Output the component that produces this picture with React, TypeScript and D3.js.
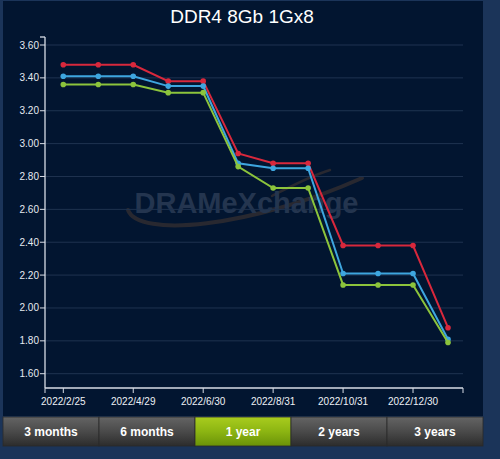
import React from "react";
import * as d3 from "d3";

const categories = ["2022/2/25", "2022/3/31", "2022/4/29", "2022/5/31", "2022/6/30", "2022/7/29", "2022/8/31", "2022/9/30", "2022/10/31", "2022/11/30", "2022/12/30", "2023/1/31"];
const tickLabels = ["2022/2/25", "2022/4/29", "2022/6/30", "2022/8/31", "2022/10/31", "2022/12/30"];
const redValues = [3.48, 3.48, 3.48, 3.38, 3.38, 2.94, 2.88, 2.88, 2.38, 2.38, 2.38, 1.88];
const blueValues = [3.41, 3.41, 3.41, 3.35, 3.35, 2.88, 2.85, 2.85, 2.21, 2.21, 2.21, 1.81];
const greenValues = [3.36, 3.36, 3.36, 3.31, 3.31, 2.86, 2.73, 2.73, 2.14, 2.14, 2.14, 1.79];
const yTicks = [1.6, 1.8, 2.0, 2.2, 2.4, 2.6, 2.8, 3.0, 3.2, 3.4, 3.6];
const buttons = ["3 months", "6 months", "1 year", "2 years", "3 years"];
const activeButton = "1 year";

const series = [
  { name: "high", values: redValues, color: "#d8283c" },
  { name: "avg", values: blueValues, color: "#3ea6df" },
  { name: "low", values: greenValues, color: "#8cc43c" },
];

export default function App() {
  const W = 500, H = 459;
  const axisLeft = 45, axisRight = 463, axisTop = 37, axisBottom = 388;
  const x = d3.scalePoint<string>().domain(categories).range([63.3, 448]);
  const y = d3.scaleLinear().domain([1.6, 3.6]).range([373.7, 45]);
  const line = d3.line<number>().x((_, i) => x(categories[i])!).y((v) => y(v));
  const btnX = d3.scaleBand<string>().domain(buttons).range([3, 483]);
  const font = "'Liberation Sans', Arial, sans-serif";

  return (
    <svg width={W} height={H} style={{ position: "absolute", left: 0, top: 0, display: "block" }} fontFamily={font}>
      <defs>
        <linearGradient id="btnGray" x1="0" y1="0" x2="0" y2="1">
          <stop offset="0" stopColor="#646464" />
          <stop offset="0.5" stopColor="#4a4a4a" />
          <stop offset="1" stopColor="#2c2c2c" />
        </linearGradient>
        <linearGradient id="btnGreen" x1="0" y1="0" x2="0" y2="1">
          <stop offset="0" stopColor="#a9cc1e" />
          <stop offset="0.5" stopColor="#8cb512" />
          <stop offset="1" stopColor="#6a9208" />
        </linearGradient>
      </defs>
      <rect x={0} y={0} width={W} height={H} fill="#1b3459" />
      <rect x={3} y={1} width={480} height={415} fill="#021530" />

      {/* watermark */}
      <g opacity={0.5}>
        <path d="M128,210 C138,238 250,228 362,178" stroke="#4e3c30" strokeWidth={4} fill="none" strokeLinecap="round" />
        <path d="M272,196 C292,186 310,176 330,170" stroke="#4e3c30" strokeWidth={2.5} fill="none" strokeLinecap="round" />
        <text x={246.5} y={213} textAnchor="middle" fontSize={29} fontWeight="bold" fill="#46566e">DRAMeXchange</text>
      </g>

      {/* grid */}
      {yTicks.map((t) => (
        <line key={t} x1={axisLeft} x2={axisRight} y1={y(t)} y2={y(t)} stroke="#1f3350" strokeWidth={1} />
      ))}

      {/* y axis */}
      <line x1={axisLeft} x2={axisLeft} y1={axisTop} y2={axisBottom} stroke="#d8dde6" strokeWidth={1.3} />
      <line x1={axisLeft - 5} x2={axisLeft} y1={axisTop} y2={axisTop} stroke="#d8dde6" strokeWidth={1.3} />
      {yTicks.map((t) => (
        <g key={t}>
          <line x1={axisLeft - 5} x2={axisLeft} y1={y(t)} y2={y(t)} stroke="#d8dde6" strokeWidth={1} />
          <text x={axisLeft - 6} y={y(t) + 3.5} textAnchor="end" fontSize={10} fill="#e6eaf0">{t.toFixed(2)}</text>
        </g>
      ))}

      {/* x axis */}
      <line x1={axisLeft} x2={axisRight} y1={axisBottom} y2={axisBottom} stroke="#d8dde6" strokeWidth={1.3} />
      {[axisLeft, axisRight].map((px) => (
        <line key={px} x1={px} x2={px} y1={axisBottom} y2={axisBottom + 5} stroke="#d8dde6" strokeWidth={1} />
      ))}
      {tickLabels.map((c) => (
        <g key={c}>
          <line x1={x(c)!} x2={x(c)!} y1={axisBottom} y2={axisBottom + 5} stroke="#d8dde6" strokeWidth={1} />
          <text x={x(c)!} y={axisBottom + 16.5} textAnchor="middle" fontSize={10} fill="#eef1f5">{c}</text>
        </g>
      ))}

      {/* series */}
      {series.map((s) => (
        <g key={s.name}>
          <path d={line(s.values) || ""} fill="none" stroke={s.color} strokeWidth={2} />
          {s.values.map((v, i) => (
            <circle key={i} cx={x(categories[i])!} cy={y(v)} r={2.8} fill={s.color} />
          ))}
        </g>
      ))}

      {/* title */}
      <text x={242} y={23} textAnchor="middle" fontSize={19} fill="#ffffff">DDR4 8Gb 1Gx8</text>

      {/* buttons */}
      {buttons.map((b) => (
        <g key={b}>
          <rect x={btnX(b)!} y={417} width={btnX.bandwidth()} height={29} fill={b === activeButton ? "url(#btnGreen)" : "url(#btnGray)"} stroke="#2a2a2a" strokeWidth={0.8} />
          <text x={btnX(b)! + btnX.bandwidth() / 2} y={435.5} textAnchor="middle" fontSize={12} fontWeight="bold" fill="#ffffff">{b}</text>
        </g>
      ))}
    </svg>
  );
}
